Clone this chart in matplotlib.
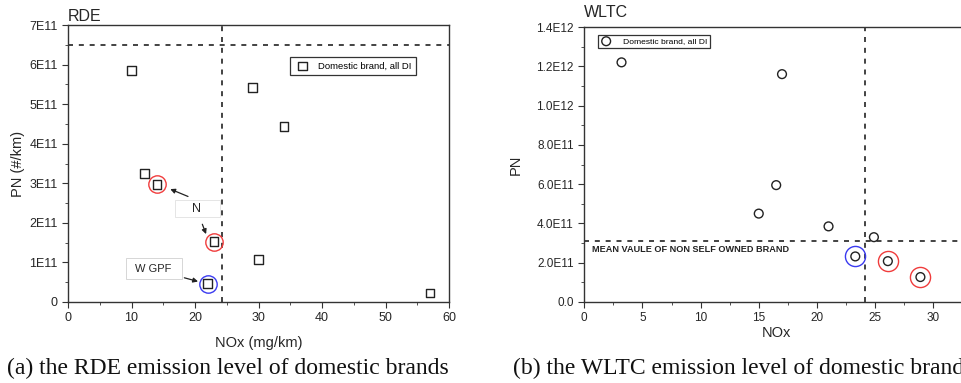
import matplotlib
matplotlib.use('Agg')
import matplotlib.pyplot as plt
from matplotlib.patches import Rectangle
from matplotlib.ticker import MultipleLocator, FuncFormatter

# RDE panel (NOx mg/km, PN #/km)
rde_nox = [10, 12, 14, 23, 22, 29, 34, 30, 57]
rde_pn = [5.86e11, 3.25e11, 2.97e11, 1.52e11, 0.46e11, 5.43e11, 4.43e11, 1.08e11, 0.23e11]
rde_red = [(14, 2.97e11), (23, 1.52e11)]
rde_blue = [(22, 0.46e11)]
rde_pn_limit = 6.5e11
rde_nox_limit = 24.2

# WLTC panel
wltc_nox = [3.2, 17.0, 16.5, 15.0, 21.0, 24.9, 23.3, 26.1, 28.9]
wltc_pn = [1.22e12, 1.16e12, 0.595e12, 0.45e12, 0.385e12, 0.33e12, 0.232e12, 0.208e12, 0.127e12]
wltc_red = [(26.1, 0.208e12), (28.9, 0.127e12)]
wltc_blue = [(23.3, 0.232e12)]
wltc_pn_mean = 0.31e12
wltc_nox_limit = 24.1

plt.rcParams['font.family'] = ['Liberation Sans', 'DejaVu Sans']
txt = '#262626'
dash = (0, (3, 3.5))

fig = plt.figure(figsize=(9.61, 3.83), dpi=100)

def style(ax, size):
    for s in ax.spines.values():
        s.set_color('#333333')
        s.set_linewidth(1.0)
    ax.tick_params(which='both', direction='out', colors='#333333', labelcolor=txt,
                   labelsize=size)
    ax.tick_params(which='major', length=4)
    ax.tick_params(which='minor', length=2.5)

# ---- (a) RDE ----
ax1 = fig.add_axes([68 / 961, 1 - 302 / 383, 381 / 961, 277 / 383])
style(ax1, 9)
ax1.scatter(rde_nox, rde_pn, marker='s', s=40, facecolors='none', edgecolors='#222222',
            linewidths=1.0, zorder=3, label='Domestic brand, all DI')
for x, y in rde_red:
    ax1.plot(x, y, 'o', ms=12.5, mfc='none', mec='#f03c3c', mew=1.0, zorder=4)
for x, y in rde_blue:
    ax1.plot(x, y, 'o', ms=12.5, mfc='none', mec='#3a3af0', mew=1.0, zorder=4)
ax1.axhline(rde_pn_limit, color='#222222', lw=1.2, ls=dash)
ax1.axvline(rde_nox_limit, color='#222222', lw=1.2, ls=dash)
ax1.set_xlim(0, 60)
ax1.set_ylim(0, 7e11)
ax1.xaxis.set_major_locator(MultipleLocator(10))
ax1.xaxis.set_minor_locator(MultipleLocator(5))
ax1.yaxis.set_major_locator(MultipleLocator(1e11))
ax1.yaxis.set_minor_locator(MultipleLocator(0.5e11))
ax1.yaxis.set_major_formatter(FuncFormatter(lambda v, p: '0' if v == 0 else f'{v / 1e11:.0f}E11'))
ax1.set_xlabel('NOx (mg/km)', fontsize=10.5, color=txt, labelpad=8)
ax1.set_ylabel('PN (#/km)', fontsize=10.5, color=txt, labelpad=3)
ax1.set_title('RDE', fontsize=11.5, color=txt, loc='left', pad=3)
leg = ax1.legend(loc='upper right', bbox_to_anchor=(0.913, 0.884), borderaxespad=0,
                 fontsize=6.8, fancybox=False, edgecolor='#333333', framealpha=1,
                 handletextpad=0.9, borderpad=0.45, handlelength=1.6)
leg.get_frame().set_linewidth(0.9)

# annotation boxes and arrows
ax1.add_patch(Rectangle((16.85, 2.15e11), 7.05, 0.43e11, fc='white', ec='#e0e0e0', lw=0.6, zorder=2))
ax1.text(20.3, 2.35e11, 'N', fontsize=9, color=txt, ha='center', va='center', zorder=2)
ax1.annotate('', xy=(15.7, 2.88e11), xytext=(19.3, 2.64e11),
             arrowprops=dict(arrowstyle='-|>', color='#222222', lw=0.9, mutation_scale=7))
ax1.annotate('', xy=(21.9, 1.65e11), xytext=(21.0, 2.03e11),
             arrowprops=dict(arrowstyle='-|>', color='#222222', lw=0.9, mutation_scale=7))
ax1.add_patch(Rectangle((9.13, 0.58e11), 8.82, 0.53e11, fc='white', ec='#d0d0d0', lw=0.6, zorder=2))
ax1.text(13.4, 0.83e11, 'W GPF', fontsize=8, color=txt, ha='center', va='center', zorder=2)
ax1.annotate('', xy=(20.9, 0.5e11), xytext=(17.9, 0.63e11),
             arrowprops=dict(arrowstyle='-|>', color='#222222', lw=0.9, mutation_scale=7))

# ---- (b) WLTC ----
ax2 = fig.add_axes([584.3 / 961, 1 - 302 / 383, 383.8 / 961, 275 / 383])
style(ax2, 8.5)
ax2.spines['right'].set_visible(False)
ax2.scatter(wltc_nox, wltc_pn, marker='o', s=40, facecolors='none', edgecolors='#222222',
            linewidths=1.0, zorder=3, label='Domestic brand, all DI')
for x, y in wltc_red:
    ax2.plot(x, y, 'o', ms=14.5, mfc='none', mec='#f03c3c', mew=1.0, zorder=4)
for x, y in wltc_blue:
    ax2.plot(x, y, 'o', ms=14.5, mfc='none', mec='#3a3af0', mew=1.0, zorder=4)
ax2.axhline(wltc_pn_mean, color='#222222', lw=1.2, ls=dash)
ax2.axvline(wltc_nox_limit, color='#222222', lw=1.2, ls=dash)
ax2.set_xlim(0, 33)
ax2.set_ylim(0, 1.4e12)
ax2.xaxis.set_major_locator(MultipleLocator(5))
ax2.xaxis.set_minor_locator(MultipleLocator(2.5))
ax2.yaxis.set_major_locator(MultipleLocator(2e11))
ax2.yaxis.set_minor_locator(MultipleLocator(1e11))

def sci(v, p):
    if v == 0:
        return '0.0'
    e = len(str(int(round(v)))) - 1
    return f'{v / 10 ** e:.1f}E{e}'

ax2.yaxis.set_major_formatter(FuncFormatter(sci))
ax2.set_xlabel('NOx', fontsize=10.5, color=txt, labelpad=1)
ax2.set_ylabel('PN', fontsize=10.5, color=txt, labelpad=10)
ax2.text(0.0, 1.025, 'WLTC', transform=ax2.transAxes, fontsize=11.5, color=txt,
         ha='left', va='bottom')
leg2 = ax2.legend(loc='upper left', bbox_to_anchor=(0.036, 0.971), borderaxespad=0,
                  fontsize=6.1, fancybox=False, edgecolor='#333333', framealpha=1,
                  handletextpad=1.3, borderpad=0.3, handlelength=1.3)
leg2.get_frame().set_linewidth(0.9)
ax2.text(0.7, 0.265e12, 'MEAN VAULE OF NON SELF OWNED BRAND', fontsize=6.6, fontweight='bold',
         color='#222222', ha='left', va='center')

# captions
fig.text(7 / 961, 1 - 368 / 383, '(a) the RDE emission level of domestic brands',
         fontsize=17, family=['Liberation Serif'], color='#111111', ha='left', va='center')
fig.text(513 / 961, 1 - 368 / 383, '(b) the WLTC emission level of domestic brands',
         fontsize=17, family=['Liberation Serif'], color='#111111', ha='left', va='center')

fig.savefig('out.png', dpi=100)
